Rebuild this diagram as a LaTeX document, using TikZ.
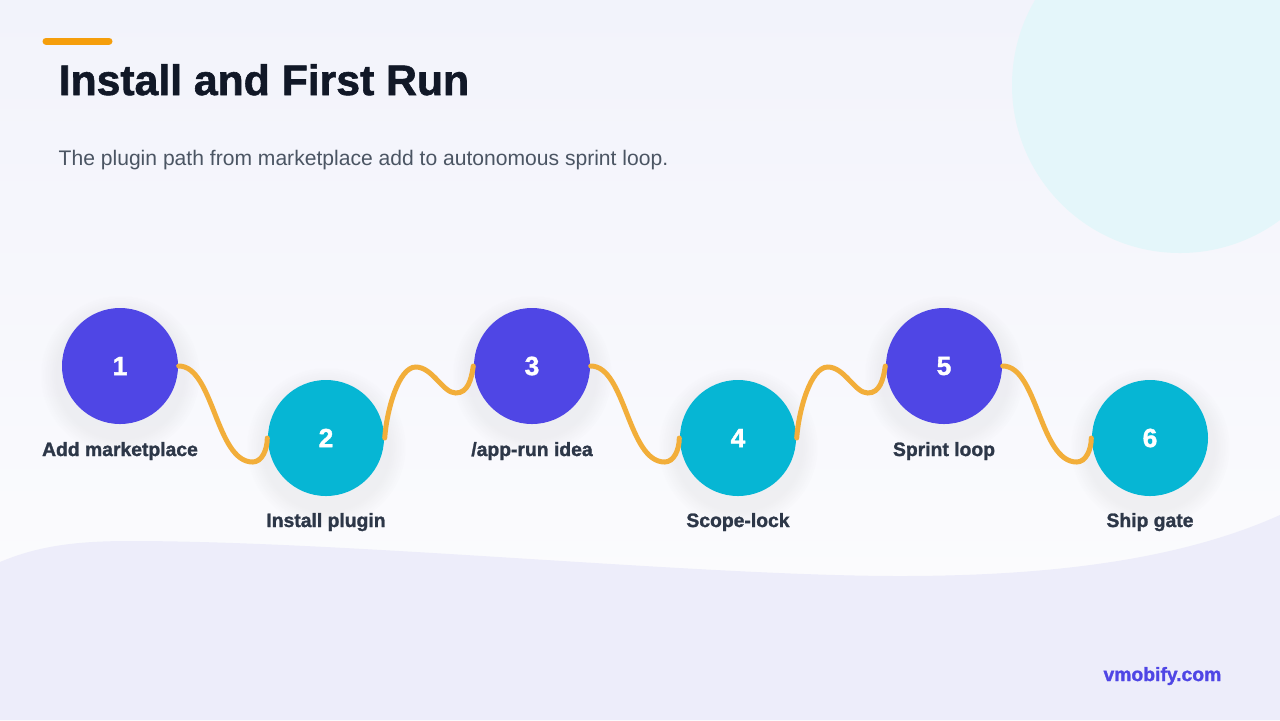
\documentclass[tikz,border=0pt]{standalone}
\usepackage{fontspec}
\setmainfont{Liberation Sans}
\newfontfamily\heavyfont{Liberation Sans}[BoldFeatures={FakeBold=1.4}]
\usetikzlibrary{calc, fadings}
\definecolor{primary}{RGB}{79, 70, 229}
\definecolor{secondary}{RGB}{6, 182, 212}
\definecolor{accent}{RGB}{245, 158, 11}
\definecolor{wavecol}{RGB}{242, 174, 58}
\definecolor{ink}{RGB}{17, 24, 39}
\definecolor{muted}{RGB}{75, 85, 99}
\definecolor{dark}{RGB}{45, 55, 72}
\definecolor{bgtop}{RGB}{242, 243, 251}
\definecolor{bgbot}{RGB}{253, 253, 254}
\definecolor{band}{RGB}{237, 237, 250}
\definecolor{bubble}{RGB}{228, 246, 250}
\tikzset{
    stepdot/.style={circle, minimum size=11.6mm, inner sep=0pt, text=white, font=\heavyfont\fontsize{7.5}{9}\selectfont\bfseries},
    dotshade/.style={fill=black!60, fill opacity=0.07, path fading=circle with fuzzy edge 20 percent},
    steplabel/.style={anchor=base, inner sep=0pt, text=dark, font=\heavyfont\fontsize{5.5}{7}\selectfont\bfseries},
    wave/.style={draw=wavecol, line width=0.5mm, line cap=round}
}
\begin{document}
\begin{tikzpicture}[x=0.1mm, y=-0.1mm]
    \useasboundingbox (0,0) rectangle (1280,720);
    \clip (0,0) rectangle (1280,720);
    % background
    \fill[top color=bgtop, bottom color=bgbot] (0,0) rectangle (1280,720);
    \fill[bubble] (1180,85) circle [radius=168];
    \fill[band] (0,562) .. controls (40,545) and (80,541) .. (130,541)
        .. controls (350,541) and (700,576) .. (900,576)
        .. controls (1050,576) and (1180,560) .. (1280,515) -- (1280,720) -- (0,720) -- cycle;
    % heading
    \draw[accent, line width=0.7mm, line cap=round] (46,41) -- (109,41);
    \node[anchor=base west, inner sep=0pt, text=ink, font=\heavyfont\fontsize{12.15}{14}\selectfont\bfseries] (title) at (58,95) {Install and First Run};
    \node[anchor=base west, inner sep=0pt, text=muted, font=\fontsize{6.0}{8}\selectfont] (sub) at (58,165) {The plugin path from marketplace add to autonomous sprint loop.};
    % soft shadows under the steps
    \foreach \x/\y in {120/366, 326/438, 532/366, 738/438, 944/366, 1150/438}
        \fill[dotshade] (\x,\y+9) circle [radius=80];
    % steps
    \node[stepdot, fill=primary] (s1) at (120,366) {1};
    \node[stepdot, fill=secondary] (s2) at (326,438) {2};
    \node[stepdot, fill=primary] (s3) at (532,366) {3};
    \node[stepdot, fill=secondary] (s4) at (738,438) {4};
    \node[stepdot, fill=primary] (s5) at (944,366) {5};
    \node[stepdot, fill=secondary] (s6) at (1150,438) {6};
    \node[steplabel] (l1) at (120,456) {Add marketplace};
    \node[steplabel] (l2) at (326,527) {Install plugin};
    \node[steplabel] (l3) at (532,456) {/app-run idea};
    \node[steplabel] (l4) at (738,527) {Scope-lock};
    \node[steplabel] (l5) at (944,456) {Sprint loop};
    \node[steplabel] (l6) at (1150,527) {Ship gate};
    % wavy links
    \draw[wave] (s1.east) .. controls +(35,0) and +(-37,0) .. ++(74,96) .. controls +(9,0) and +(0,12) .. (s2.west);
    \draw[wave] (s2.east) .. controls +(2,-28) and +(-17,0) .. ++(31,-71) .. controls +(17,0) and +(-13,0) .. ++(40,26) .. controls +(12,0) and +(-2,14) .. (s3.west);
    \draw[wave] (s3.east) .. controls +(35,0) and +(-37,0) .. ++(74,96) .. controls +(9,0) and +(0,12) .. (s4.west);
    \draw[wave] (s4.east) .. controls +(2,-28) and +(-17,0) .. ++(31,-71) .. controls +(17,0) and +(-13,0) .. ++(40,26) .. controls +(12,0) and +(-2,14) .. (s5.west);
    \draw[wave] (s5.east) .. controls +(35,0) and +(-37,0) .. ++(74,96) .. controls +(9,0) and +(0,12) .. (s6.west);
    % footer
    \node[anchor=base east, inner sep=0pt, text=primary, font=\heavyfont\fontsize{5.5}{7}\selectfont\bfseries] (site) at (1222,681) {vmobify.com};
\end{tikzpicture}
\end{document}
